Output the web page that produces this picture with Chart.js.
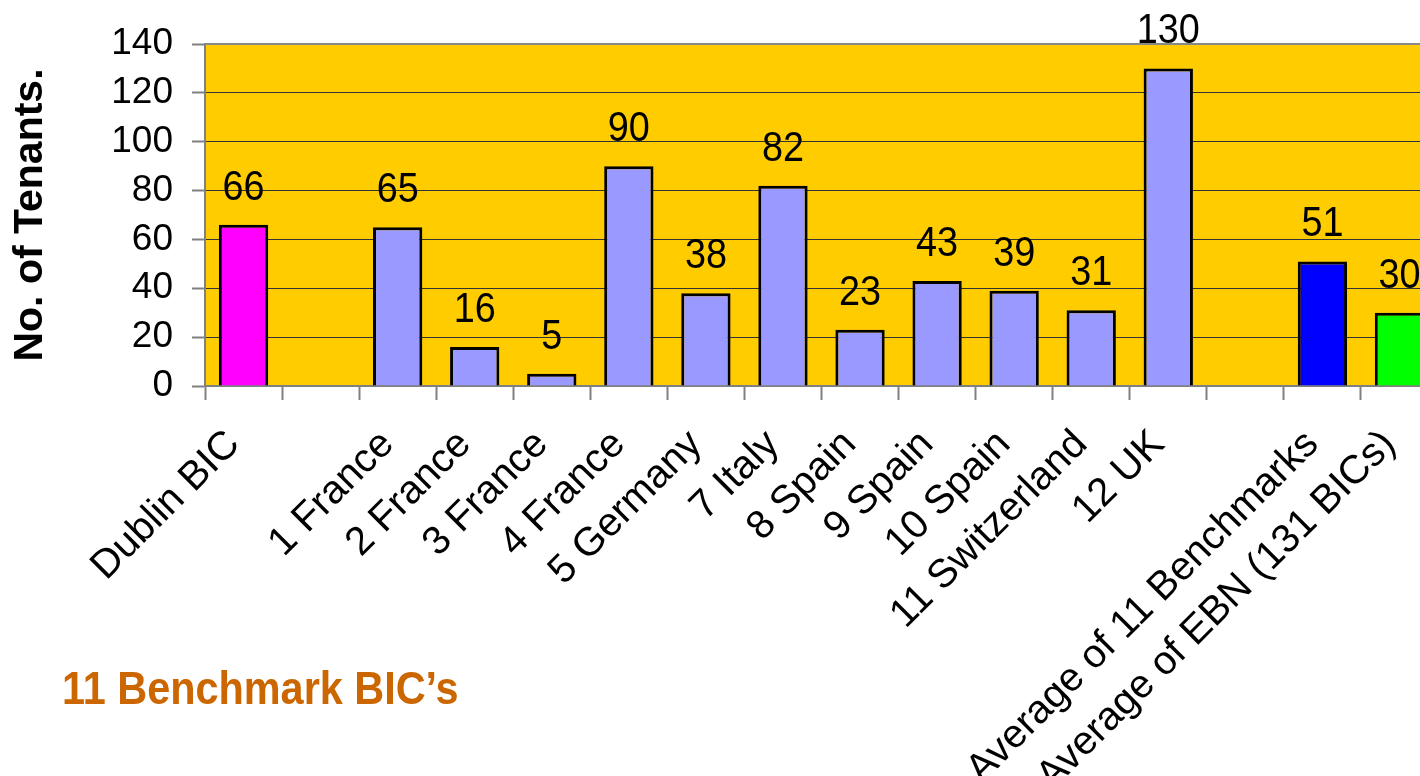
<!DOCTYPE html>
<html>
<head>
<meta charset="utf-8">
<script src="https://cdn.jsdelivr.net/npm/chart.js@4/dist/chart.umd.min.js"></script>
<style>
  html, body { margin: 0; padding: 0; background: #fff; overflow: hidden; }
  #wrap { position: relative; width: 1420px; height: 776px; overflow: hidden; }
  #chart { position: absolute; left: 0; top: 0; }
  #caption {
    position: absolute; left: 62px; top: 665px;
    font: bold 46px "Liberation Sans", Arial, sans-serif; line-height: 1;
    color: #CC6600; white-space: nowrap;
    transform: scaleX(0.9); transform-origin: 0 0;
  }
</style>
</head>
<body>
<div id="wrap">
  <canvas id="chart" width="1440" height="776"></canvas>
  <div id="caption">11 Benchmark BIC’s</div>
</div>
<script>
// categories and values
var labels = ['Dublin BIC', '', '1 France', '2 France', '3 France', '4 France', '5 Germany', '7 Italy',
              '8 Spain', '9 Spain', '10 Spain', '11 Switzerland', '12 UK', '',
              'Average of 11 Benchmarks', 'Average of EBN (131 BICs)'];
var tenants = [66, null, 65, 16, 5, 90, 38, 82, 23, 43, 39, 31, 130, null, 51, 30];
var barColors = ['#FF00FF', '#9999FF', '#9999FF', '#9999FF', '#9999FF', '#9999FF', '#9999FF', '#9999FF',
                 '#9999FF', '#9999FF', '#9999FF', '#9999FF', '#9999FF', '#9999FF', '#0000FF', '#00FF00'];
var yTicks = [0, 20, 40, 60, 80, 100, 120, 140];

var font = '"Liberation Sans", Arial, sans-serif';

// yellow plot area + grey top border
var plotBg = {
    id: 'plotBg',
    beforeDraw: function(chart) {
        var a = chart.chartArea, ctx = chart.ctx;
        ctx.save();
        ctx.fillStyle = '#FFCC00';
        ctx.fillRect(a.left, a.top, a.right - a.left, a.bottom - a.top);
        ctx.restore();
    },
    afterDraw: function(chart) {
        var a = chart.chartArea, ctx = chart.ctx;
        ctx.save();
        ctx.strokeStyle = '#888888';
        ctx.lineWidth = 2;
        ctx.beginPath();
        ctx.moveTo(a.left, a.top);
        ctx.lineTo(a.right, a.top);
        ctx.stroke();
        ctx.restore();
    }
};

// value labels above bars (text a bit narrow, like the original)
var valueLabels = {
    id: 'valueLabels',
    afterDatasetsDraw: function(chart) {
        var ctx = chart.ctx;
        var meta = chart.getDatasetMeta(0);
        meta.data.forEach(function(bar, i) {
            if (tenants[i] == null) return;
            ctx.save();
            ctx.translate(bar.x, bar.y - 25);
            ctx.scale(0.9, 1);
            ctx.fillStyle = '#000';
            ctx.font = '42px ' + font;
            ctx.textAlign = 'center';
            ctx.textBaseline = 'alphabetic';
            ctx.fillText(String(tenants[i]), 0, 0);
            ctx.restore();
        });
    }
};

new Chart(document.getElementById('chart'), {
    type: 'bar',
    data: {
        labels: labels,
        datasets: [{
            data: tenants,
            backgroundColor: barColors,
            borderColor: '#000',
            borderWidth: 3,
            barPercentage: 0.64,
            categoryPercentage: 1
        }]
    },
    options: {
        responsive: false,
        animation: false,
        layout: { padding: { top: 44, right: 2, left: 0, bottom: 0 } },
        plugins: { legend: { display: false }, tooltip: { enabled: false } },
        scales: {
            x: {
                afterFit: function(s) { s.height = 390; s.paddingLeft = 0; s.paddingRight = 0; },
                grid: { drawOnChartArea: false, tickLength: 14, tickColor: '#808080', tickWidth: 2 },
                border: { color: '#808080', width: 2 },
                ticks: {
                    autoSkip: false, minRotation: 45, maxRotation: 45, labelOffset: -10,
                    color: '#000', font: { family: font, size: 40 }, padding: 21
                }
            },
            y: {
                min: 0, max: 140,
                afterFit: function(s) { s.width = 205; },
                afterBuildTicks: function(s) { s.ticks = yTicks.map(function(v) { return { value: v }; }); },
                grid: { color: '#333333', lineWidth: 1, tickLength: 13, tickColor: '#808080', tickWidth: 2 },
                border: { color: '#808080', width: 2 },
                ticks: { color: '#000', font: { family: font, size: 37 }, padding: 19 },
                title: {
                    display: true, text: 'No. of Tenants.', color: '#000',
                    font: { family: font, size: 41, weight: 'bold' }, padding: { top: 6, bottom: 4 }
                }
            }
        }
    },
    plugins: [plotBg, valueLabels]
});
</script>
</body>
</html>
